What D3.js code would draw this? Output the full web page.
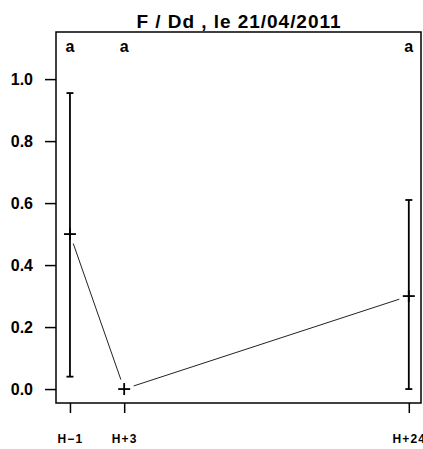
<!DOCTYPE html>
<html>
<head>
<meta charset="utf-8">
<script src="https://cdn.jsdelivr.net/npm/d3@7"></script>
<style>
  body { margin: 0; background: #fff; }
  text { font-family: "Liberation Sans", Arial, sans-serif; fill: #000; }
</style>
</head>
<body>
<div id="chart"></div>
<script>
// sampling times (hours) and their labels
const timeHours = [-1, 3, 24];
const timeLabels = ["H\u22121", "H+3", "H+24"];

// mean and error bar bounds
const means = [0.5, 0, 0.3];
const lower = [0.04, 0, 0.0];
const upper = [0.955, 0, 0.61];

// group letters above each time
const groupLetters = ["a", "a", "a"];

const yTicks = [0, 0.2, 0.4, 0.6, 0.8, 1.0];
const title = "F / Dd , le 21/04/2011";

const width = 423, height = 449;
const plot = { left: 56, right: 421, top: 32, bottom: 403 };

const svg = d3.select("#chart").append("svg")
  .attr("width", width)
  .attr("height", height);

const x = d3.scaleLinear()
  .domain([-2.03, 24.9])
  .range([plot.left, plot.right]);

const y = d3.scaleLinear()
  .domain([-0.045, 1.152])
  .range([plot.bottom, plot.top]);

const data = timeHours.map(function(h, i) {
  return { h: h, label: timeLabels[i], mean: means[i], lo: lower[i], hi: upper[i], letter: groupLetters[i] };
});

// title
svg.append("text")
  .attr("x", (plot.left + plot.right) / 2)
  .attr("y", 28)
  .attr("text-anchor", "middle")
  .attr("font-size", 19)
  .attr("font-weight", "bold")
  .attr("textLength", 204)
  .attr("lengthAdjust", "spacing")
  .text(title);

// y axis
const yAxis = svg.append("g")
  .attr("transform", "translate(" + plot.left + ",0)")
  .call(d3.axisLeft(y).tickValues(yTicks).tickSize(11).tickPadding(12)
    .tickFormat(d3.format(".1f")));
yAxis.select(".domain").remove();
yAxis.selectAll("line").attr("stroke", "#000").attr("stroke-width", 1.5);
yAxis.selectAll("text")
  .attr("font-size", 16)
  .attr("font-weight", "bold")
  .attr("font-family", "Liberation Sans, Arial, sans-serif")
  .attr("dy", "0.36em");

// x axis
const xAxis = svg.append("g")
  .attr("transform", "translate(0," + plot.bottom + ")")
  .call(d3.axisBottom(x).tickValues(timeHours).tickSize(10).tickPadding(21)
    .tickFormat(function(d, i) { return timeLabels[i]; }));
xAxis.select(".domain").remove();
xAxis.selectAll("line").attr("stroke", "#000").attr("stroke-width", 1.5);
xAxis.selectAll("text")
  .attr("font-size", 12)
  .attr("font-weight", "bold")
  .attr("font-family", "Liberation Sans, Arial, sans-serif")
  .attr("letter-spacing", 1.2);

// box
svg.append("rect")
  .attr("x", plot.left)
  .attr("y", plot.top)
  .attr("width", plot.right - plot.left)
  .attr("height", plot.bottom - plot.top)
  .attr("fill", "none")
  .attr("stroke", "#000")
  .attr("stroke-width", 1.5);

// connecting line with gaps around the points
const gap = 10;
for (let i = 0; i < data.length - 1; i++) {
  const x1 = x(data[i].h), y1 = y(data[i].mean);
  const x2 = x(data[i + 1].h), y2 = y(data[i + 1].mean);
  const len = Math.hypot(x2 - x1, y2 - y1);
  const ux = (x2 - x1) / len, uy = (y2 - y1) / len;
  svg.append("line")
    .attr("x1", x1 + ux * gap).attr("y1", y1 + uy * gap)
    .attr("x2", x2 - ux * gap).attr("y2", y2 - uy * gap)
    .attr("stroke", "#222")
    .attr("stroke-width", 1);
}

// error bars
const bars = svg.selectAll(".errbar")
  .data(data.filter(function(d) { return d.hi > d.lo; }))
  .enter().append("g")
  .attr("class", "errbar")
  .attr("stroke", "#000")
  .attr("stroke-width", 1.8);
bars.append("line")
  .attr("x1", function(d) { return x(d.h); })
  .attr("x2", function(d) { return x(d.h); })
  .attr("y1", function(d) { return y(d.lo); })
  .attr("y2", function(d) { return y(d.hi); });
bars.append("line")
  .attr("x1", function(d) { return x(d.h) - 3.5; })
  .attr("x2", function(d) { return x(d.h) + 3.5; })
  .attr("y1", function(d) { return y(d.hi); })
  .attr("y2", function(d) { return y(d.hi); });
bars.append("line")
  .attr("x1", function(d) { return x(d.h) - 3.5; })
  .attr("x2", function(d) { return x(d.h) + 3.5; })
  .attr("y1", function(d) { return y(d.lo); })
  .attr("y2", function(d) { return y(d.lo); });

// "+" markers at the means
const marks = svg.selectAll(".mark")
  .data(data)
  .enter().append("g")
  .attr("class", "mark")
  .attr("stroke", "#000")
  .attr("stroke-width", 1.8);
marks.append("line")
  .attr("x1", function(d) { return x(d.h) - 6; })
  .attr("x2", function(d) { return x(d.h) + 6; })
  .attr("y1", function(d) { return y(d.mean); })
  .attr("y2", function(d) { return y(d.mean); });
marks.append("line")
  .attr("x1", function(d) { return x(d.h); })
  .attr("x2", function(d) { return x(d.h); })
  .attr("y1", function(d) { return y(d.mean) - 6; })
  .attr("y2", function(d) { return y(d.mean) + 6; });

// group letters
svg.selectAll(".letter")
  .data(data)
  .enter().append("text")
  .attr("class", "letter")
  .attr("x", function(d) { return x(d.h); })
  .attr("y", 52)
  .attr("text-anchor", "middle")
  .attr("font-size", 16)
  .attr("font-weight", "bold")
  .text(function(d) { return d.letter; });
</script>
</body>
</html>
